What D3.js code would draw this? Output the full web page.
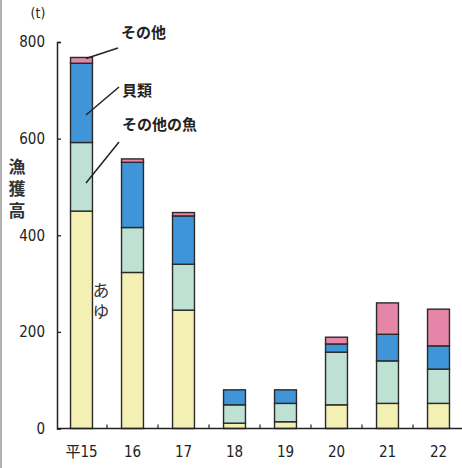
<!DOCTYPE html>
<html><head><meta charset="utf-8">
<script src="https://cdn.jsdelivr.net/npm/d3@7"></script>
<style>
html,body{margin:0;padding:0;background:#fff;}
svg{display:block;}
</style></head>
<body>
<svg id="c" width="462" height="468"></svg>
<script>
const categories = ["平15","16","17","18","19","20","21","22"];
const seriesNames = ["あゆ","その他の魚","貝類","その他"];
const ayu       = [450, 323, 245, 11, 14, 49, 52, 52];
const otherFish = [142,  93,  95, 38, 38, 109, 88, 71];
const shellfish = [164, 135, 100, 31, 28, 17, 55, 48];
const others    = [ 12,   7,   7,  0,  0, 14, 65, 76];
const yTicks = [0, 200, 400, 600, 800];
const colors = ["#f4efb3", "#bfe1d3", "#3f95d7", "#e585a7"];

const svg = d3.select("#c");
const font = "'DejaVu Sans Condensed','DejaVu Sans','Noto Sans CJK JP',sans-serif";
const jfont = "'Noto Sans CJK JP',sans-serif";

// left scan border
svg.append("line").attr("x1",1).attr("x2",1).attr("y1",0).attr("y2",468)
  .attr("stroke","#999").attr("stroke-width",1.5);

const x = d3.scaleBand().domain(categories).range([56, 464]).paddingInner(0.57).paddingOuter(0.285);
const y = d3.scaleLinear().domain([0, 800]).range([428.5, 42]);

const table = categories.map((c, i) => ({cat: c, "あゆ": ayu[i], "その他の魚": otherFish[i], "貝類": shellfish[i], "その他": others[i]}));
const stacked = d3.stack().keys(seriesNames)(table);

const g = svg.append("g");
stacked.forEach((s, si) => {
  g.selectAll(null).data(s.filter(d => d[1] - d[0] > 0)).enter().append("rect")
    .attr("x", d => x(d.data.cat))
    .attr("width", x.bandwidth())
    .attr("y", d => y(d[1]))
    .attr("height", d => y(d[0]) - y(d[1]))
    .attr("fill", colors[si])
    .attr("stroke", "#2a2a2a")
    .attr("stroke-width", 1.4);
});

// y axis
const ya = svg.append("g").attr("transform", "translate(57,0)")
  .call(d3.axisLeft(y).tickValues(yTicks).tickSize(-4).tickPadding(12).tickFormat(d3.format("d")));
ya.select(".domain").attr("stroke", "#222").attr("stroke-width", 1.5);
ya.selectAll(".tick line").attr("stroke", "#222").attr("stroke-width", 1.3);
ya.selectAll("text").attr("font-family", font).attr("font-size", 15).attr("fill", "#222");

// x axis
const xa = svg.append("g").attr("transform", "translate(0,428.5)")
  .call(d3.axisBottom(x).tickSize(0).tickPadding(18));
xa.select(".domain").attr("d", "M57,0H462").attr("stroke", "#222").attr("stroke-width", 1.5);
xa.selectAll("text").attr("font-family", font).attr("font-size", 15).attr("fill", "#222");
// boundary ticks between categories
const bounds = categories.slice(1).map(c => x(c) - x.step() * x.paddingInner() / 2);
svg.append("g").selectAll("line").data(bounds).enter().append("line")
  .attr("x1", d => d).attr("x2", d => d).attr("y1", 428.5).attr("y2", 424.5)
  .attr("stroke", "#222").attr("stroke-width", 1.2);

// unit
svg.append("text").attr("x", 38).attr("y", 18).attr("text-anchor", "middle")
  .attr("font-family", font).attr("font-size", 14).attr("fill", "#222").text("(t)");

// y title vertical
svg.append("text").attr("x", 17).attr("y", 158)
  .attr("style", "writing-mode: vertical-rl; letter-spacing: 5px;")
  .attr("font-family", jfont).attr("font-weight", "bold").attr("font-size", 17).attr("fill", "#333").text("漁獲高");

// あゆ label
svg.append("text").attr("x", 101).attr("y", 282)
  .attr("style", "writing-mode: vertical-rl; letter-spacing: 4px;")
  .attr("font-family", jfont).attr("font-size", 17).attr("fill", "#333").text("あゆ");

// annotations for first bar
const ann = [
  {t: "その他", tx: 121, ty: 38, lx: 118, ly: 48, v: ayu[0] + otherFish[0] + shellfish[0] + others[0] - 2, ex: 86},
  {t: "貝類", tx: 122, ty: 96, lx: 119, ly: 87, v: ayu[0] + otherFish[0] + shellfish[0] - 107, ex: 86},
  {t: "その他の魚", tx: 122, ty: 130, lx: 119, ly: 142, v: ayu[0] + otherFish[0] - 84, ex: 86}
];
ann.forEach(a => {
  svg.append("text").attr("x", a.tx).attr("y", a.ty).attr("font-family", jfont).attr("font-weight", "bold")
    .attr("font-size", 15).attr("fill", "#222").text(a.t);
  svg.append("line").attr("x1", a.lx).attr("y1", a.ly).attr("x2", a.ex).attr("y2", y(a.v))
    .attr("stroke", "#222").attr("stroke-width", 1.5);
});
</script>
</body></html>
